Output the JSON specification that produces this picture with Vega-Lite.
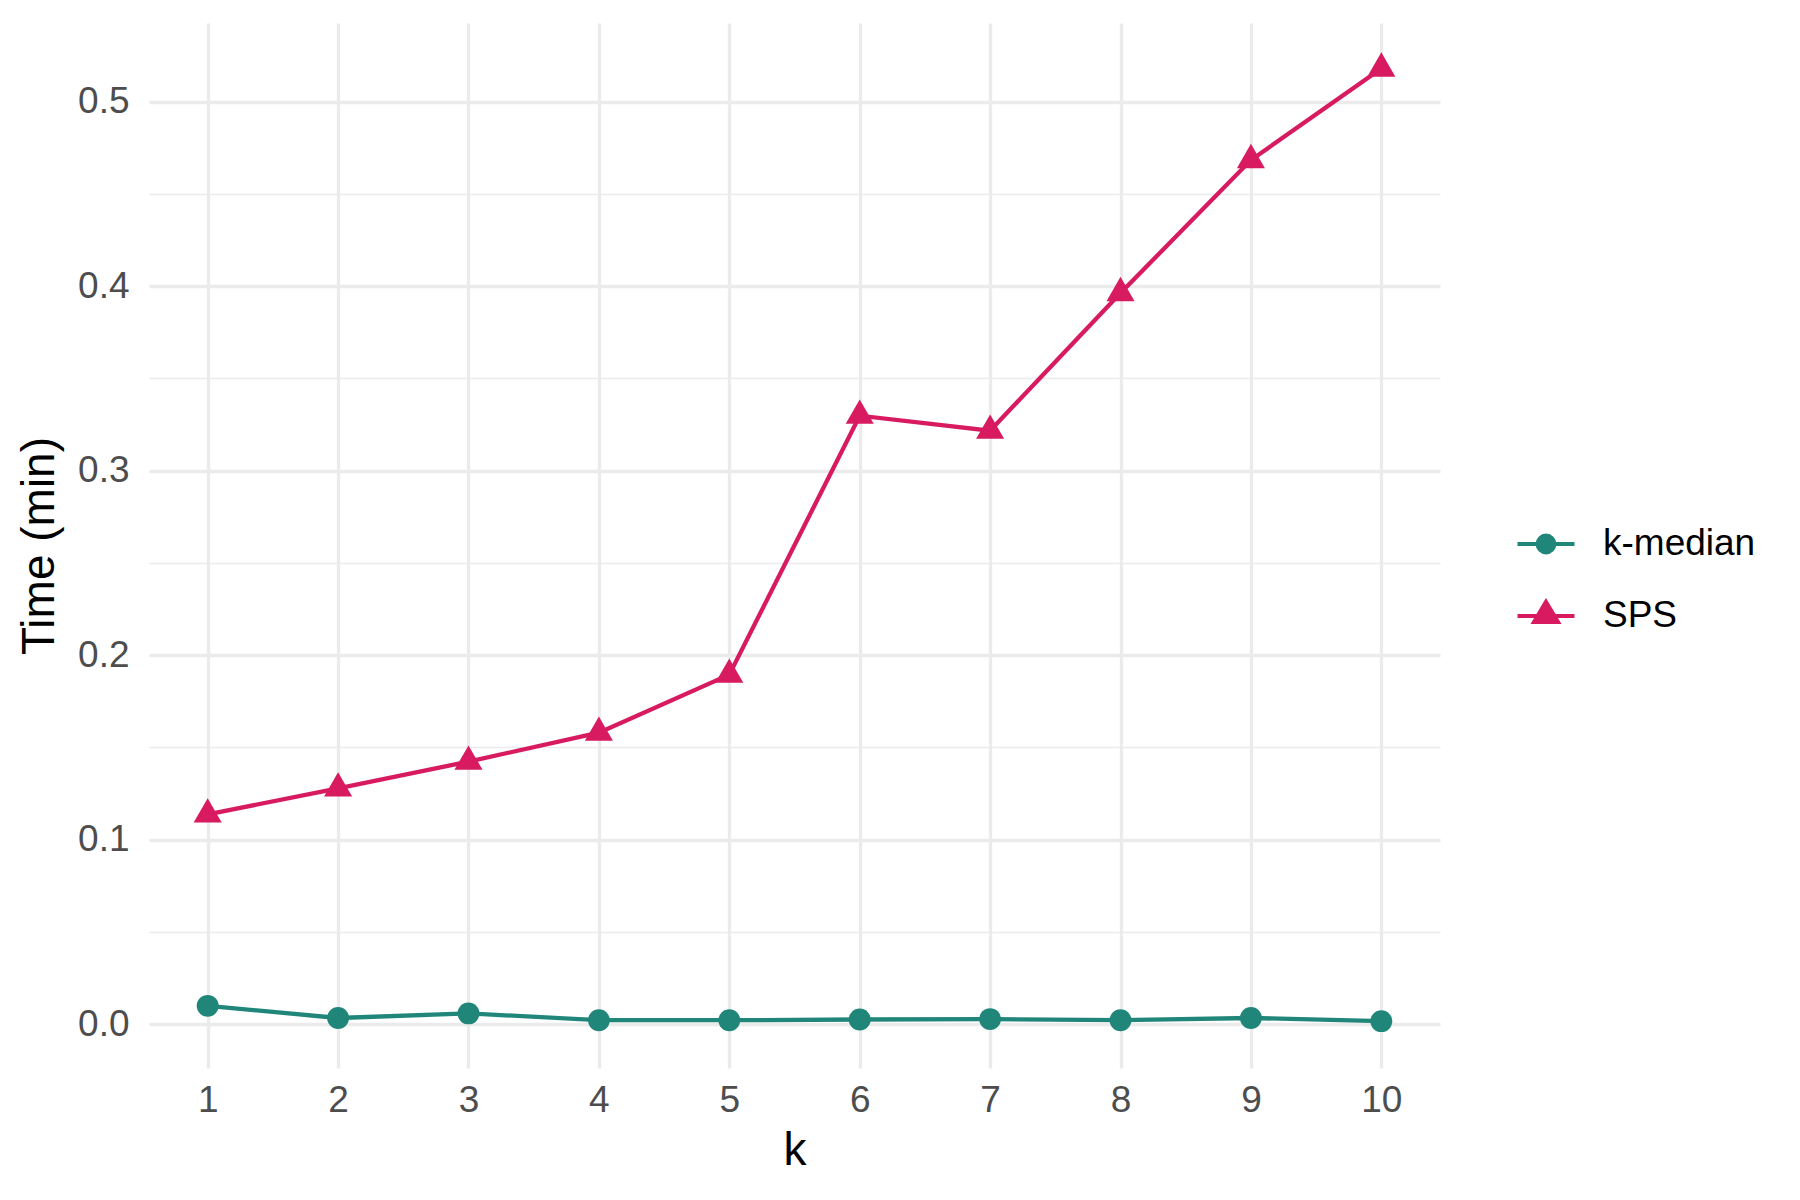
{
  "$schema": "https://vega.github.io/schema/vega-lite/v6.json",
  "autosize": {"type": "none"},
  "padding": {"left": 149, "top": 23, "right": 360, "bottom": 132},
  "width": 1291,
  "height": 1045,
  "background": "white",
  "config": {
    "font": "Liberation Sans",
    "view": {"stroke": null},
    "axis": {"domain": false, "ticks": false, "gridColor": "#EBEBEB", "labelColor": "#4D4D4D", "labelFontSize": 37, "titleFontSize": 46, "titleFontWeight": "normal", "titleColor": "#000000", "labelFont": "Liberation Sans", "titleFont": "Liberation Sans"}
  },
  "data": {
    "values": [
      {"k": 1, "method": "k-median", "time": 0.0099},
      {"k": 2, "method": "k-median", "time": 0.0033},
      {"k": 3, "method": "k-median", "time": 0.0058},
      {"k": 4, "method": "k-median", "time": 0.0021},
      {"k": 5, "method": "k-median", "time": 0.0021},
      {"k": 6, "method": "k-median", "time": 0.0025},
      {"k": 7, "method": "k-median", "time": 0.0027},
      {"k": 8, "method": "k-median", "time": 0.0021},
      {"k": 9, "method": "k-median", "time": 0.0033},
      {"k": 10, "method": "k-median", "time": 0.0016},
      {"k": 1, "method": "SPS", "time": 0.1137},
      {"k": 2, "method": "SPS", "time": 0.1278},
      {"k": 3, "method": "SPS", "time": 0.1423},
      {"k": 4, "method": "SPS", "time": 0.158},
      {"k": 5, "method": "SPS", "time": 0.1894},
      {"k": 6, "method": "SPS", "time": 0.3298},
      {"k": 7, "method": "SPS", "time": 0.3217},
      {"k": 8, "method": "SPS", "time": 0.3963},
      {"k": 9, "method": "SPS", "time": 0.4684},
      {"k": 10, "method": "SPS", "time": 0.518}
    ]
  },
  "encoding": {
    "x": {
      "field": "k", "type": "quantitative",
      "scale": {"domain": [0.55, 10.45], "nice": false, "zero": false},
      "axis": {
        "title": "k",
        "values": [1, 1.5, 2, 2.5, 3, 3.5, 4, 4.5, 5, 5.5, 6, 6.5, 7, 7.5, 8, 8.5, 9, 9.5, 10],
        "format": "d",
        "labelExpr": "datum.value % 1 === 0 ? datum.label : ''",
        "gridWidth": {"condition": {"test": "datum.value % 1 !== 0", "value": 1.7}, "value": 3.3},
        "labelPadding": 14,
        "titlePadding": 10,
        "labelFlush": false,
        "labelOverlap": false
      }
    },
    "y": {
      "field": "time", "type": "quantitative",
      "scale": {"domain": [-0.0238, 0.5427], "nice": false, "zero": false},
      "axis": {
        "title": "Time (min)",
        "values": [0, 0.05, 0.1, 0.15, 0.2, 0.25, 0.3, 0.35, 0.4, 0.45, 0.5],
        "format": ".1f",
        "labelExpr": "round(datum.value * 20) % 2 === 0 ? datum.label : ''",
        "gridWidth": {"condition": {"test": "round(datum.value * 20) % 2 === 1", "value": 1.7}, "value": 3.3},
        "labelPadding": 20,
        "titlePadding": 14,
        "labelFlush": false,
        "labelOverlap": false
      }
    }
  },
  "layer": [
    {
      "mark": {"type": "line", "strokeWidth": 4.3},
      "encoding": {
        "color": {
          "field": "method", "type": "nominal",
          "scale": {"domain": ["k-median", "SPS"], "range": ["#21867A", "#D81B60"]},
          "legend": {
            "title": null,
            "orient": "none",
            "legendX": 1365,
            "legendY": 489,
            "padding": 0,
            "symbolSize": 3600,
            "rowPadding": 22,
            "labelFontSize": 37,
            "labelColor": "#000000",
            "labelOffset": 25,
            "labelFont": "Liberation Sans",
            "encode": {
              "symbols": {
                "update": {
                  "shape": {"signal": "datum.value === 'SPS' ? 'M-0.95,0L0.95,0M0,-0.47L-0.4,0.2L0.4,0.2Z' : 'M-0.95,0L0.95,0M0.28,0A0.28,0.28,0,1,1,-0.28,0A0.28,0.28,0,1,1,0.28,0Z'"},
                  "fill": {"signal": "datum.value === 'SPS' ? '#D81B60' : '#21867A'"},
                  "stroke": {"signal": "datum.value === 'SPS' ? '#D81B60' : '#21867A'"},
                  "strokeWidth": {"value": 4},
                  "size": {"value": 3600},
                  "opacity": {"value": 1},
                  "fillOpacity": {"value": 1},
                  "strokeOpacity": {"value": 1}
                }
              }
            }
          }
        }
      }
    },
    {
      "transform": [{"filter": {"field": "method", "equal": "k-median"}}],
      "mark": {"type": "point", "filled": true, "opacity": 1, "shape": "circle", "size": 480},
      "encoding": {
        "color": {"field": "method", "type": "nominal", "legend": null}
      }
    },
    {
      "transform": [{"filter": {"field": "method", "equal": "SPS"}}],
      "mark": {"type": "point", "filled": true, "opacity": 1, "shape": "M0,-1L-0.866,0.5L0.866,0.5Z", "size": 1050},
      "encoding": {
        "color": {"field": "method", "type": "nominal", "legend": null}
      }
    }
  ]
}
